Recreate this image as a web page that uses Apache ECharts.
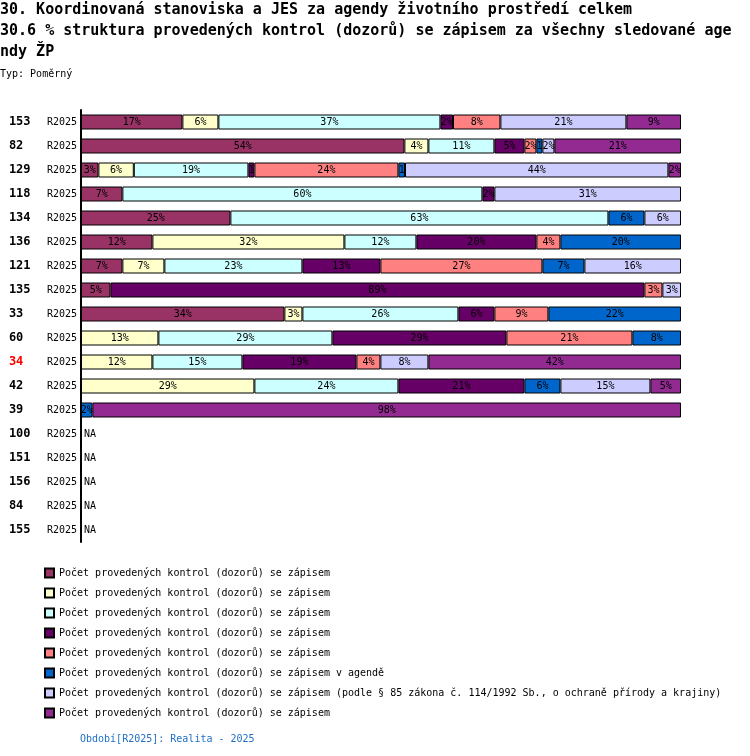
<!DOCTYPE html>
<html>
<head>
<meta charset="utf-8">
<script src="https://cdn.jsdelivr.net/npm/echarts@6/dist/echarts.min.js"></script>
<style>
  html, body { margin: 0; padding: 0; background: #fff; }
  #chart-container { width: 750px; height: 756px; }
</style>
</head>
<body>
<div id="chart-container"></div>
<script>
// rows top to bottom
const categories = ['153', '82', '129', '118', '134', '136', '121', '135', '33', '60', '34', '42', '39', '100', '151', '156', '84', '155'];
const periodLabel = 'R2025';
const highlighted = ['34'];

// shares in % per row, null = segment missing
const s1 = [16.9, 53.9, 2.9, 6.9, 24.9, 11.9, 6.9, 4.9, 33.9, null, null, null, null, null, null, null, null, null];
const s2 = [6.0, 4.0, 5.9, null, null, 32.0, 7.0, null, 3.0, 12.9, 11.9, 28.9, null, null, null, null, null, null];
const s3 = [37.0, 11.0, 19.1, 60.0, 63.0, 12.0, 23.0, null, 26.0, 29.0, 15.0, 24.0, null, null, null, null, null, null];
const s4 = [2.1, 5.0, 1.0, 2.0, null, 20.0, 13.0, 89.0, 6.0, 29.0, 19.0, 21.0, null, null, null, null, null, null];
const s5 = [7.9, 2.0, 24.0, null, null, 4.0, 27.0, 3.0, 9.0, 21.0, 4.0, null, null, null, null, null, null, null];
const s6 = [null, 1.0, 1.1, null, 6.0, 20.1, 7.0, null, 22.1, 8.1, null, 6.0, 1.9, null, null, null, null, null];
const s7 = [21.0, 2.0, 43.9, 31.1, 6.1, null, 16.1, 3.1, null, null, 8.0, 15.0, null, null, null, null, null, null];
const s8 = [9.1, 21.1, 2.1, null, null, null, null, null, null, null, 42.1, 5.1, 98.1, null, null, null, null, null];
// rows without data
const naRows = [false, false, false, false, false, false, false, false, false, false, false, false, false, true, true, true, true, true];

const seriesData = [s1, s2, s3, s4, s5, s6, s7, s8];
const seriesColors = ['#993366', '#ffffcc', '#ccffff', '#660066', '#ff8080', '#0066cc', '#ccccff', '#922a92'];
const baseName = 'Počet provedených kontrol (dozorů) se zápisem';
const legendLabels = [
    baseName,
    baseName,
    baseName,
    baseName,
    baseName,
    baseName + ' v agendě',
    baseName + ' (podle § 85 zákona č. 114/1992 Sb., o ochraně přírody a krajiny)',
    baseName
];

const mono = 'DejaVu Sans Mono';

const chartDom = document.getElementById('chart-container');
const myChart = echarts.init(chartDom, null, {renderer: 'canvas'});

const series = seriesData.map((arr, i) => ({
    name: 's' + (i + 1),
    type: 'bar',
    stack: 'total',
    barWidth: 15,
    data: arr.map(v => (v === null ? '-' : v)),
    itemStyle: {color: seriesColors[i], borderColor: '#000', borderWidth: 1},
    label: {
        show: true,
        position: 'inside',
        color: '#000',
        fontFamily: mono,
        fontSize: 10,
        formatter: function (p) {
            const r = Math.round(p.value);
            return r < 2 ? String(r) : r + '%';
        }
    },
    emphasis: {disabled: true},
    animation: false
}));

// "NA" markers for rows without data
series.push({
    name: 'na',
    type: 'bar',
    stack: 'total',
    barWidth: 15,
    data: naRows.map(f => (f ? 0 : '-')),
    itemStyle: {color: 'transparent', borderWidth: 0},
    label: {
        show: true,
        position: 'right',
        distance: 3,
        color: '#000',
        fontFamily: mono,
        fontSize: 10,
        formatter: 'NA'
    },
    emphasis: {disabled: true},
    animation: false
});

const option = {
    animation: false,
    title: [
        {
            text: '30. Koordinovaná stanoviska a JES za agendy životního prostředí celkem\n30.6 % struktura provedených kontrol (dozorů) se zápisem za všechny sledované age\nndy ŽP',
            left: 0,
            top: 0,
            padding: 0,
            textStyle: {fontFamily: mono, fontSize: 15, fontWeight: 'bold', color: '#000', lineHeight: 21}
        },
        {
            text: 'Typ: Poměrný',
            left: 0,
            top: 69,
            padding: 0,
            textStyle: {fontFamily: mono, fontSize: 10, fontWeight: 'normal', color: '#000'}
        },
        {
            text: 'Období[R2025]: Realita - 2025',
            left: 80,
            top: 734,
            padding: 0,
            textStyle: {fontFamily: mono, fontSize: 10, fontWeight: 'normal', color: '#1f6fc5'}
        }
    ],
    legend: {
        orient: 'vertical',
        left: 44,
        top: 563,
        padding: 0,
        itemGap: 0,
        itemWidth: 9,
        itemHeight: 9,
        icon: 'rect',
        selectedMode: false,
        data: ['s1', 's2', 's3', 's4', 's5', 's6', 's7', 's8'],
        formatter: function (name) {
            return legendLabels[Number(name.slice(1)) - 1];
        },
        textStyle: {fontFamily: mono, fontSize: 10, color: '#000', lineHeight: 20}
    },
    grid: {
        left: 81,
        right: 69,
        top: 110,
        height: 432
    },
    xAxis: {
        type: 'value',
        min: 0,
        max: 100,
        show: false
    },
    yAxis: {
        type: 'category',
        inverse: true,
        data: categories,
        axisLine: {show: true, lineStyle: {color: '#000', width: 2}},
        axisTick: {show: false},
        axisLabel: {
            margin: 4,
            formatter: function (value) {
                const tag = highlighted.indexOf(value) >= 0 ? 'h' : 'n';
                return '{' + tag + '|' + value + '}{r|' + periodLabel + '}';
            },
            rich: {
                n: {width: 38, align: 'left', fontFamily: mono, fontSize: 12, fontWeight: 'bold', color: '#000'},
                h: {width: 38, align: 'left', fontFamily: mono, fontSize: 12, fontWeight: 'bold', color: '#ff0000'},
                r: {fontFamily: mono, fontSize: 10, color: '#000'}
            }
        }
    },
    series: series
};

option && myChart.setOption(option, true);
</script>
</body>
</html>
